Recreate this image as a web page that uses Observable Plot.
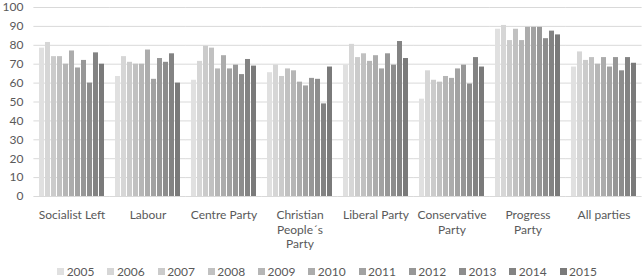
<!DOCTYPE html>
<html>
<head>
<meta charset="utf-8">
<script src="https://cdn.jsdelivr.net/npm/d3@7"></script>
<script src="https://cdn.jsdelivr.net/npm/@observablehq/plot@0.6"></script>
<style>
  html, body { margin: 0; padding: 0; background: #fff; }
  #chart { width: 642px; height: 280px; overflow: hidden; }
  #chart svg { display: block; overflow: visible; }
</style>
</head>
<body>
<div id="chart"></div>
<script>
const parties = ["Socialist Left", "Labour", "Centre Party", "Christian People´s Party", "Liberal Party", "Conservative Party", "Progress Party", "All parties"];
const partyLabels = ["Socialist Left", "Labour", "Centre Party", "Christian\nPeople´s\nParty", "Liberal Party", "Conservative\nParty", "Progress\nParty", "All parties"];
const years = ["2005", "2006", "2007", "2008", "2009", "2010", "2011", "2012", "2013", "2014", "2015"];
const socialistLeft = [78.5, 81.5, 74, 74, 70, 77, 68, 72, 60, 76, 70];
const labour = [63.5, 74, 71, 70, 70, 77.5, 62, 73, 71, 75.5, 60];
const centreParty = [61.5, 71.5, 79.5, 78.5, 67.5, 74.5, 67.5, 69.5, 64.5, 72.5, 69];
const christianPeoples = [65.5, 69.5, 63.5, 67.5, 66.5, 60.5, 58.5, 62.5, 62, 49, 68.5];
const liberalParty = [69.5, 80.5, 73.5, 75.5, 71.5, 74.5, 67.5, 75.5, 69.5, 82, 73];
const conservativeParty = [51.5, 66.5, 61.5, 60.5, 63.5, 62.5, 67.5, 69.5, 59.5, 73.5, 68.5];
const progressParty = [88.5, 90.5, 82.5, 88.5, 82.5, 89.5, 89.5, 89.5, 83.5, 87.5, 85.5];
const allParties = [68.5, 76.5, 72, 73.5, 70, 73.5, 68.5, 73.5, 66.5, 73.5, 70.5];
const yTicks = [0, 10, 20, 30, 40, 50, 60, 70, 80, 90, 100];

const seriesByParty = [socialistLeft, labour, centreParty, christianPeoples, liberalParty, conservativeParty, progressParty, allParties];
const colors = ["#e0e0e0", "#d6d6d6", "#cbcbcb", "#c1c1c1", "#b6b6b6", "#acacac", "#a2a2a2", "#979797", "#8d8d8d", "#838383", "#7a7a7a"];

const data = parties.flatMap((p, i) => years.map((y, j) => ({party: p, year: y, value: seriesByParty[i][j]})));

const chart = Plot.plot({
  width: 642,
  height: 260,
  marginLeft: 33,
  marginRight: 0,
  marginTop: 7,
  marginBottom: 64,
  style: {fontFamily: "Lato, sans-serif", fontSize: "12px", color: "#595959", background: "#fff", overflow: "visible"},
  fx: {domain: parties, paddingInner: 0.12, paddingOuter: 0.065, label: null},
  x: {domain: years, paddingInner: 0.25, paddingOuter: 0, axis: null},
  y: {domain: [0, 100], label: null},
  color: {domain: years, range: colors},
  marks: [
    Plot.ruleY(yTicks, {stroke: "#d9d9d9", strokeWidth: 1, insetLeft: -4.6, insetRight: -4.6}),
    Plot.barY(data, {fx: "party", x: "year", y: "value", fill: "year"}),
    Plot.axisY({ticks: yTicks, tickSize: 0, tickPadding: 15, label: null, fontSize: 12}),
    Plot.axisFx({anchor: "bottom", tickSize: 0, tickPadding: 13, label: null, lineHeight: 1.17,
      tickFormat: d => partyLabels[parties.indexOf(d)]})
  ]
});

const legend = Plot.legend({
  color: {type: "ordinal", domain: years, range: colors},
  swatchSize: 7
});

const root = document.getElementById("chart");
root.appendChild(chart);
const lg = document.createElement("div");
lg.appendChild(legend);
root.appendChild(lg);

// Legend layout (style only)
const imp = (el, prop, val) => el.style.setProperty(prop, val, "important");
imp(legend, "display", "flex");
imp(legend, "justify-content", "center");
imp(legend, "align-items", "center");
imp(legend, "min-height", "22px");
imp(legend, "height", "22px");
imp(legend, "margin", "0");
imp(legend, "padding-left", "12px");
imp(legend, "font-family", "Lato, sans-serif");
imp(legend, "font-size", "12px");
imp(legend, "color", "#595959");
const items = Array.from(legend.children).filter(el => el.tagName.toLowerCase() !== "style");
items.forEach((el, i) => {
  imp(el, "display", "inline-flex");
  imp(el, "align-items", "center");
  imp(el, "margin-right", i === items.length - 1 ? "0px" : "12.9px");
  imp(el, "font-size", "12px");
  el.querySelectorAll("svg").forEach(s => imp(s, "margin-right", "2.5px"));
});
</script>
</body>
</html>
